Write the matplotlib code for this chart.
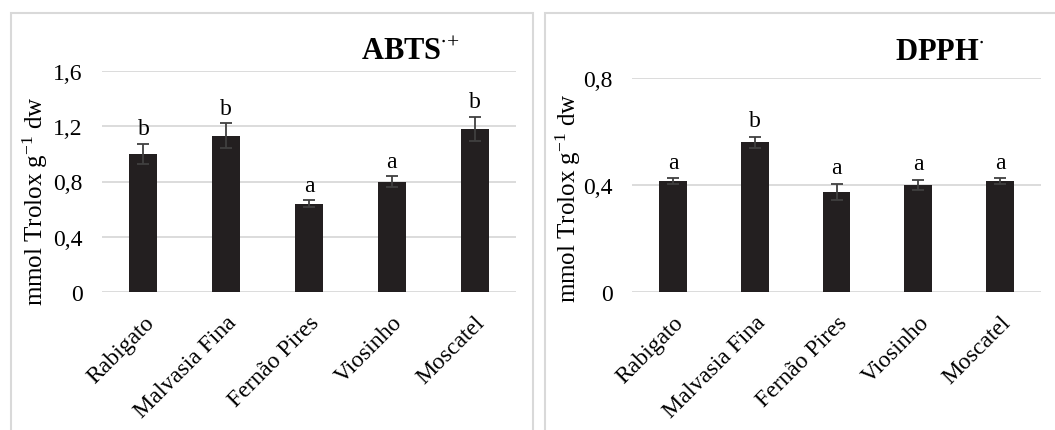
import matplotlib
matplotlib.use('Agg')
import matplotlib.pyplot as plt
from matplotlib.patches import Rectangle
import numpy as np

cultivars = ['Rabigato', 'Malvasia Fina', 'Fernão Pires', 'Viosinho', 'Moscatel']

abts_mean = [1.00, 1.13, 0.64, 0.80, 1.18]
abts_err = [0.075, 0.09, 0.025, 0.04, 0.09]
abts_letters = ['b', 'b', 'a', 'a', 'b']

dpph_mean = [0.415, 0.56, 0.375, 0.40, 0.415]
dpph_err = [0.01, 0.02, 0.03, 0.02, 0.01]
dpph_letters = ['a', 'b', 'a', 'a', 'a']

plt.rcParams['font.family'] = ['Liberation Serif', 'DejaVu Serif']
plt.rcParams['mathtext.fontset'] = 'custom'
plt.rcParams['mathtext.rm'] = 'Liberation Serif'
plt.rcParams['mathtext.it'] = 'Liberation Serif:italic'
plt.rcParams['mathtext.bf'] = 'Liberation Serif:bold'

W, H = 1055, 431
fig = plt.figure(figsize=(W / 100, H / 100), dpi=100)

# panel frames (light gray boxes like the original figure)
for x0, x1 in [(11, 533), (545, 1060)]:
    fig.patches.append(Rectangle((x0 / W, -0.05), (x1 - x0) / W, (H - 14) / H + 0.05,
                                 transform=fig.transFigure, fill=False,
                                 edgecolor='#d9d9d9', linewidth=1.5))


def draw_panel(rect, means, errs, letters, ymax, yticks, yticklabels, title, title_x, letter_pad, label_xy):
    ax = fig.add_axes(rect)
    x = np.arange(len(cultivars))
    ax.bar(x, means, width=0.34, color='#231f20', zorder=3)
    ax.errorbar(x, means, yerr=errs, fmt='none', ecolor='#404040',
                elinewidth=1.3, capsize=4.5, capthick=1.3, zorder=4)
    for xi, m, e, lt in zip(x, means, errs, letters):
        ax.text(xi, m + e + letter_pad, lt, ha='center', va='bottom', fontsize=17)
    ax.set_xlim(-0.5, len(cultivars) - 0.5)
    ax.set_ylim(0, ymax)
    ax.set_yticks(yticks)
    ax.set_yticklabels(yticklabels, fontsize=17)
    ax.set_xticks(x)
    ax.set_xticklabels(cultivars, rotation=45, ha='right', rotation_mode='anchor', fontsize=17)
    ax.tick_params(length=0)
    ax.tick_params(axis='y', pad=14)
    ax.tick_params(axis='x', pad=14)
    ax.grid(axis='y', color='#d9d9d9', linewidth=1.3, zorder=0)
    ax.set_axisbelow(True)
    for s in ax.spines.values():
        s.set_visible(False)
    ax.set_ylabel(r'mmol Trolox g$^{\mathrm{-1}}$ dw', fontsize=18, va='center')
    ax.yaxis.set_label_coords(*label_xy)
    fig.text(title_x / W, 1 - 52 / H, title, ha='center', va='center', fontsize=22)
    return ax


draw_panel([102 / W, 138 / H, 414 / W, 221 / H], abts_mean, abts_err, abts_letters,
           1.6, [0, 0.4, 0.8, 1.2, 1.6], ['0', '0,4', '0,8', '1,2', '1,6'],
           r'$\mathbf{ABTS}^{\bullet\!+}$', 410, 0.03, (-0.161, 0.416))

draw_panel([632 / W, 138 / H, 409 / W, 214 / H], dpph_mean, dpph_err, dpph_letters,
           0.8, [0, 0.4, 0.8], ['0', '0,4', '0,8'],
           r'$\mathbf{DPPH}^{\bullet}$', 940, 0.02, (-0.156, 0.444))

fig.savefig('out.png', dpi=100)
